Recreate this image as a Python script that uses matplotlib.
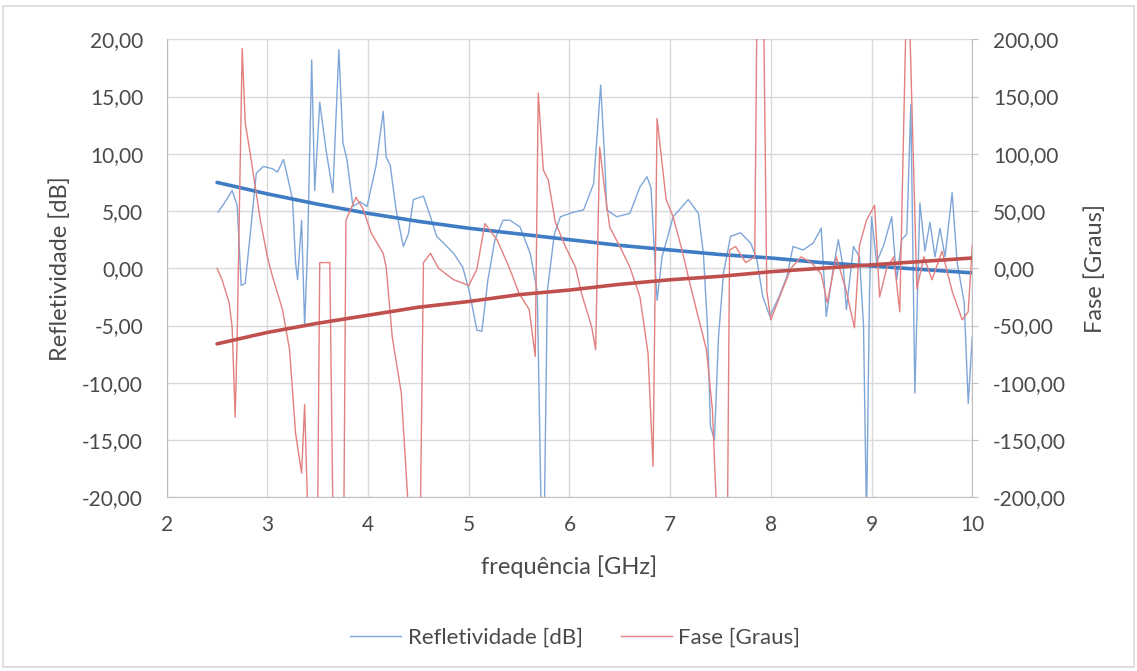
import matplotlib.pyplot as plt
from matplotlib.patches import Rectangle
from matplotlib.lines import Line2D

plt.rcParams['font.family'] = ['Lato', 'DejaVu Sans']

# ============================================================
# DATA
# ============================================================

# Refletividade [dB] - left axis
refl_freq = [2.51, 2.58, 2.65, 2.70, 2.74, 2.78, 2.83, 2.89, 2.96, 3.05, 3.10, 3.16, 3.20,
             3.25, 3.28, 3.30, 3.34, 3.37, 3.40, 3.44, 3.47, 3.52, 3.58, 3.65, 3.71, 3.75,
             3.79, 3.85, 3.92, 3.99, 4.08, 4.15, 4.18, 4.22, 4.28, 4.35, 4.40, 4.45, 4.55,
             4.62, 4.68, 4.75, 4.85, 4.94, 5.01, 5.08, 5.13, 5.19, 5.26, 5.34, 5.41, 5.51,
             5.61, 5.68, 5.72, 5.75, 5.78, 5.85, 5.91, 6.04, 6.14, 6.24, 6.31, 6.35, 6.37,
             6.47, 6.60, 6.70, 6.77, 6.81, 6.84, 6.87, 6.92, 7.03, 7.18, 7.28, 7.33, 7.37,
             7.40, 7.44, 7.48, 7.53, 7.60, 7.70, 7.80, 7.86, 7.92, 7.99, 8.08, 8.16, 8.22,
             8.32, 8.42, 8.50, 8.55, 8.62, 8.67, 8.72, 8.75, 8.82, 8.88, 8.92, 8.95, 8.98,
             9.00, 9.05, 9.12, 9.20, 9.25, 9.30, 9.35, 9.39, 9.43, 9.48, 9.53, 9.58, 9.63,
             9.68, 9.73, 9.80, 9.85, 9.92, 9.96, 10.00]
refl_db = [4.9, 5.8, 6.8, 5.5, -1.5, -1.3, 3.0, 8.3, 8.9, 8.7, 8.4, 9.5, 8.0,
           6.0, 0.5, -1.0, 4.2, -5.1, 2.0, 18.2, 6.8, 14.5, 10.5, 6.6, 19.1, 11.0,
           9.5, 5.4, 5.8, 5.4, 9.0, 13.7, 9.7, 9.0, 5.0, 1.9, 3.0, 6.0, 6.3,
           4.5, 2.8, 2.2, 1.3, 0.1, -2.2, -5.4, -5.5, -1.0, 2.5, 4.2, 4.2, 3.6,
           1.3, -2.0, -22.0, -22.0, -2.0, 3.0, 4.5, 4.9, 5.1, 7.4, 16.0, 9.5, 5.1,
           4.5, 4.8, 7.1, 8.0, 7.0, 2.0, -2.8, 1.0, 4.5, 6.0, 4.8, 1.3, -5.0,
           -13.8, -15.0, -6.0, -0.4, 2.8, 3.1, 2.2, 0.8, -2.5, -4.2, -2.5, -0.7, 1.9,
           1.6, 2.2, 3.5, -4.2, 0.0, 2.5, 0.0, -3.6, 1.9, 1.0, -5.0, -22.0, -2.0,
           4.5, 0.5, 2.0, 4.5, -1.0, 2.5, 3.0, 14.3, -10.9, 5.7, 1.5, 4.0, 1.0,
           3.5, 1.0, 6.6, 0.5, -3.0, -11.8, -6.0]

# Fase [Graus] - right axis
fase_freq = [2.50, 2.55, 2.62, 2.65, 2.68, 2.70, 2.75, 2.78, 2.83, 2.93, 3.00, 3.05, 3.15,
             3.22, 3.28, 3.34, 3.37, 3.40, 3.50, 3.52, 3.62, 3.65, 3.76, 3.78, 3.88, 3.95,
             4.03, 4.09, 4.15, 4.18, 4.24, 4.33, 4.40, 4.52, 4.55, 4.62, 4.70, 4.85, 5.00,
             5.08, 5.16, 5.28, 5.40, 5.50, 5.60, 5.66, 5.69, 5.74, 5.79, 5.86, 5.96, 6.06,
             6.12, 6.22, 6.26, 6.30, 6.35, 6.40, 6.50, 6.60, 6.70, 6.78, 6.83, 6.87, 6.96,
             7.03, 7.12, 7.22, 7.36, 7.42, 7.46, 7.57, 7.59, 7.65, 7.75, 7.84, 7.86, 7.93,
             7.96, 8.00, 8.10, 8.20, 8.30, 8.40, 8.50, 8.56, 8.65, 8.75, 8.83, 8.88, 8.95,
             9.03, 9.08, 9.15, 9.22, 9.28, 9.34, 9.38, 9.45, 9.52, 9.60, 9.70, 9.80, 9.90,
             9.96, 10.00]
fase_deg = [0, -10, -30, -51, -130, -60, 192, 127, 100, 42, 10, -7, -36,
            -71, -144, -179, -119, -210, -210, 5, 5, -210, -210, 42, 62, 52,
            31, 22, 13, 1, -60, -109, -210, -210, 5, 13, 0, -10, -15,
            -1, 39, 25, 1, -22, -36, -77, 153, 86, 77, 40, 19, 1,
            -22, -51, -71, 106, 68, 36, 19, 1, -25, -74, -173, 131, 60,
            45, 15, -22, -71, -124, -210, -210, 16, 19, 5, 10, 210, 210,
            -20, -45, -22, 0, 10, 5, -5, -30, 10, -20, -52, 20, 42,
            55, -25, 0, 10, -38, 210, 210, -18, 10, -10, 15, -20, -45,
            -38, 20]

# trend lines (read at 0.5 GHz steps)
trend_freq = [2.5, 3.0, 3.5, 4.0, 4.5, 5.0, 5.5, 6.0, 6.5, 7.0, 7.5, 8.0, 8.5, 9.0, 9.5, 10.0]
trend_refl = [7.5, 6.5, 5.6, 4.8, 4.1, 3.5, 3.0, 2.5, 2.0, 1.6, 1.2, 0.9, 0.5, 0.2, -0.1, -0.4]
trend_fase = [-66, -56, -48, -41, -34, -29, -23, -19, -14, -10, -7, -3, 0, 3, 6, 9]

# ============================================================
# STYLE
# ============================================================

TEXT_COLOR = '#4A4A4A'
GRID_COLOR = '#D9D9D9'
BLUE_THIN = '#7FA6D9'
RED_THIN = '#E38080'
BLUE_TREND = '#3F7CC4'
RED_TREND = '#C0504D'

fig = plt.figure(figsize=(11.37, 6.71), dpi=100)
fig.patch.set_facecolor('white')
fig.patches.append(Rectangle((0.003, 0.006), 0.994, 0.985, transform=fig.transFigure,
                             fill=False, edgecolor=GRID_COLOR, linewidth=1.2))

ax = fig.add_axes([0.1466, 0.2589, 0.7085, 0.6825])
ax2 = ax.twinx()

ax.plot(refl_freq, refl_db, color=BLUE_THIN, lw=1.0)
ax.plot(trend_freq, trend_refl, color=BLUE_TREND, lw=2.6, solid_capstyle='round')
ax2.plot(fase_freq, fase_deg, color=RED_THIN, lw=1.0)
ax2.plot(trend_freq, trend_fase, color=RED_TREND, lw=2.6, solid_capstyle='round')

ax.set_xlim(2, 10)
ax.set_ylim(-20, 20)
ax2.set_ylim(-200, 200)
ax.set_xticks(range(2, 11))
ax.set_yticks(range(-20, 21, 5))
ax2.set_yticks(range(-200, 201, 50))
ax.set_yticklabels([f'{v:.2f}'.replace('.', ',') for v in range(-20, 21, 5)])
ax2.set_yticklabels([f'{v:.2f}'.replace('.', ',') for v in range(-200, 201, 50)])

ax.grid(True, color=GRID_COLOR, lw=1.0)
ax.set_axisbelow(True)

for a in (ax, ax2):
    for s in a.spines.values():
        s.set_visible(False)
    a.tick_params(colors=TEXT_COLOR, labelsize=15, length=0)
ax.spines['left'].set_visible(True)
ax.spines['left'].set_color('#BFBFBF')
ax.spines['bottom'].set_visible(True)
ax.spines['bottom'].set_color('#BFBFBF')
ax2.spines['right'].set_visible(True)
ax2.spines['right'].set_color('#BFBFBF')
ax2.tick_params(axis='y', length=4, color='#BFBFBF', direction='out', pad=11)
ax.tick_params(axis='y', pad=17)
ax.tick_params(axis='x', pad=13)

ax.set_xlabel('frequência [GHz]', fontsize=17, color=TEXT_COLOR)
ax.set_ylabel('Refletividade [dB]', fontsize=17, color=TEXT_COLOR)
ax2.set_ylabel('Fase [Graus]', fontsize=17, color=TEXT_COLOR, rotation=90)
ax.xaxis.set_label_coords(0.5, -0.152)
ax.xaxis.label.set_va('center')
ax.yaxis.set_label_coords(-0.1325, 0.5)
ax.yaxis.label.set_va('center')
ax2.yaxis.set_label_coords(1.152, 0.5)
ax2.yaxis.label.set_va('center')

handles = [Line2D([], [], color=BLUE_THIN, lw=1.0), Line2D([], [], color=RED_THIN, lw=1.0)]
fig.legend(handles, ['Refletividade [dB]', 'Fase [Graus]'], loc='center',
           bbox_to_anchor=(0.506, 0.049), ncol=2, frameon=False, fontsize=16,
           handlelength=2.3, handletextpad=0.3, columnspacing=1.7, labelcolor=TEXT_COLOR)

plt.savefig('out.png', dpi=100, facecolor=fig.get_facecolor())
